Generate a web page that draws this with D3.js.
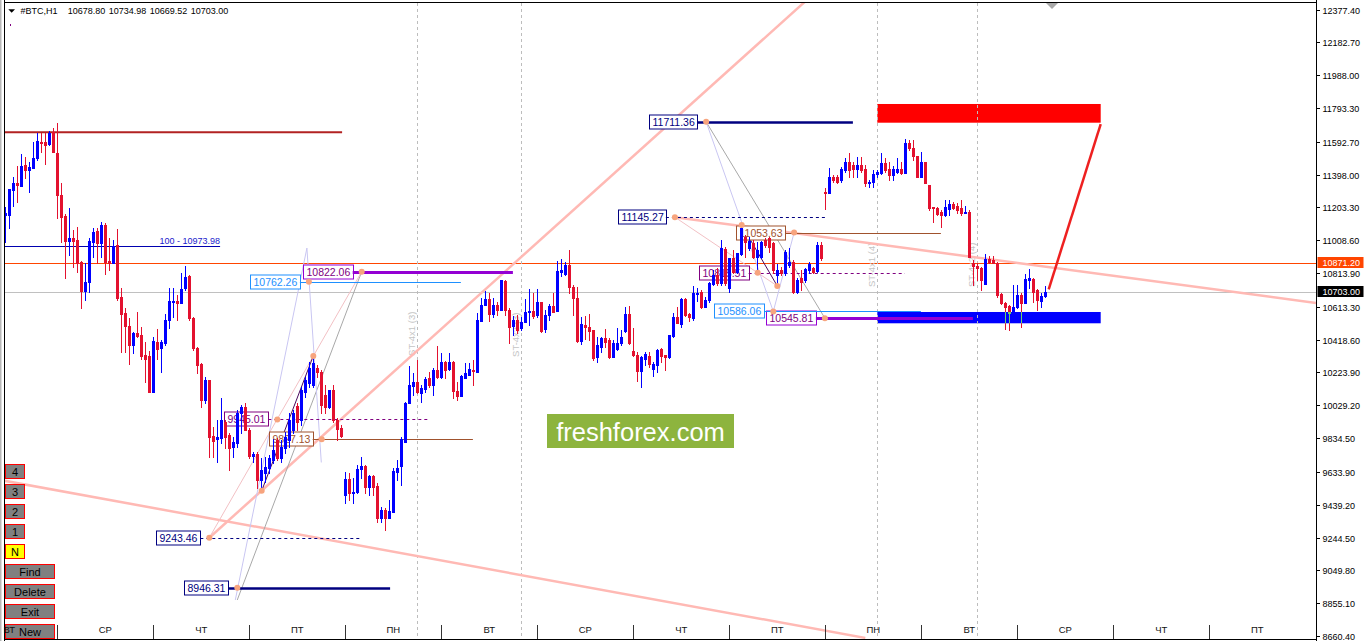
<!DOCTYPE html>
<html><head><meta charset="utf-8">
<script src="https://cdn.jsdelivr.net/npm/d3@7/dist/d3.min.js"></script>
<style>
html,body{margin:0;padding:0;background:#fff;overflow:hidden}
svg{display:block}
text{font-family:"Liberation Sans",Arial,sans-serif}
</style></head><body>
<svg id="chart" width="1366" height="641"></svg>
<script>
// ---------------- DATA ----------------
const symbol = "#BTC,H1";
const opens = [
11158,11158,11306,11346,11332,11455,11425,11439,11494,11593,
11589,11577,11653,11524,11277,11154,11004,11020,11010,10881,
10709,10759,11000,11063,10990,11099,10885,10871,10980,10670,
10575,10501,10387,10456,10446,10327,10323,10106,10406,10367,
10400,10535,10640,10648,10638,10723,10798,10545,10367,10274,
10060,10179,9847,9827,9833,9932,9853,9784,9807,9981,
10021,9882,9728,9740,9586,9625,9655,9704,9823,9714,
9774,9823,9882,10027,9942,10110,10159,10150,10248,10229,
10090,10021,10120,9942,9892,9497,9592,9507,9513,9651,
9671,9546,9611,9552,9358,9408,9358,9398,9635,9671,
9813,10045,10146,10169,10100,10126,10189,10150,10239,10199,
10288,10245,10288,10114,10086,10193,10209,10239,10229,10529,
10624,10660,10569,10624,10595,10767,10595,10502,10535,10486,
10525,10585,10590,10565,10644,10480,10565,10618,10590,10822,
10808,10861,10729,10664,10412,10505,10496,10476,10314,10377,
10426,10416,10318,10363,10397,10472,10571,10353,10327,10234,
10302,10321,10242,10268,10361,10327,10314,10440,10555,10511,
10658,10571,10545,10687,10703,10614,10654,10749,10802,10753,
10954,10723,10901,10822,10927,11026,10960,10994,10911,10911,
11010,11020,10990,10802,10832,10812,10861,10881,10703,10782,
10772,10832,10842,10828,10980,11297,11287,11386,11386,11366,
11425,11471,11455,11429,11455,11429,11350,11356,11401,11409,
11469,11429,11395,11415,11429,11409,11587,11554,11508,11386,
11475,11336,11204,11198,11178,11158,11192,11223,11211,11198,
11168,11178,10875,10855,10842,10749,10895,10891,10875,10689,
10638,10618,10575,10610,10683,10638,10772,10776,10713,10650,
10678.80];
const highs = [
11208,11315,11386,11451,11520,11504,11475,11593,11643,11643,
11643,11659,11672,11702,11346,11162,11198,11069,11085,10887,
10871,11024,11079,11079,11119,11109,11020,11010,11075,10723,
10608,10545,10466,10585,10495,10406,10351,10436,10482,10416,
10569,10723,10723,10684,10812,10856,10802,10555,10377,10278,
10199,10179,9902,9942,10070,9942,9863,9843,10001,10031,
10041,9892,9754,9754,9714,9724,9734,9827,9833,9823,
9873,9981,10001,10041,10140,10199,10288,10322,10268,10239,
10150,10120,10150,9952,9912,9635,9625,9596,9675,9724,
9675,9615,9615,9566,9428,9418,9467,9655,9705,9843,
10051,10262,10219,10298,10150,10199,10229,10248,10383,10337,
10292,10337,10292,10169,10209,10278,10278,10298,10575,10664,
10707,10693,10668,10644,10773,10773,10604,10561,10565,10555,
10658,10717,10697,10717,10644,10594,10630,10697,10887,10897,
10881,10950,10743,10733,10555,10559,10571,10476,10432,10432,
10480,10426,10416,10486,10476,10614,10618,10486,10347,10321,
10347,10347,10288,10361,10367,10327,10446,10579,10614,10664,
10664,10579,10737,10723,10713,10674,10763,10832,10842,11010,
10970,10901,10950,10935,11099,11039,11030,11010,11000,11006,
11020,11030,11000,10867,10852,10950,10960,10891,10782,10832,
10842,10881,10852,11000,11000,11316,11435,11395,11395,11445,
11494,11528,11475,11504,11504,11455,11366,11425,11425,11524,
11494,11475,11449,11494,11475,11607,11603,11603,11508,11534,
11475,11336,11208,11204,11188,11247,11247,11237,11227,11247,
11211,11188,10891,10871,10851,10927,10915,10915,10881,10693,
10644,10624,10743,10743,10693,10808,10836,10782,10717,10697,
10734.98];
const lows = [
10999,11079,11214,11237,11332,11376,11297,11435,11484,11534,
11459,11573,11534,11138,11000,10786,10921,10852,10818,10604,
10654,10703,10911,10871,10911,10806,10832,10871,10654,10347,
10347,10272,10341,10436,10302,10169,10106,10106,10304,10228,
10387,10486,10555,10535,10634,10713,10535,10357,10219,10021,
10041,9724,9724,9695,9803,9774,9645,9724,9784,9863,
9882,9714,9695,9536,9522,9576,9625,9685,9704,9695,
9744,9784,9862,9882,9912,10080,10140,10140,10199,9981,
9981,10011,9932,9823,9843,9447,9467,9447,9507,9596,
9507,9497,9497,9339,9339,9289,9358,9398,9586,9556,
9813,10045,10090,10100,10051,10110,10140,10090,10189,10189,
10189,10239,10070,10060,10086,10189,10209,10150,10229,10529,
10624,10529,10555,10565,10595,10565,10397,10446,10456,10476,
10525,10505,10545,10555,10466,10466,10535,10585,10590,10796,
10802,10697,10565,10407,10393,10420,10416,10298,10288,10347,
10377,10308,10318,10357,10387,10466,10393,10321,10175,10140,
10268,10254,10203,10229,10288,10238,10308,10432,10515,10496,
10559,10531,10535,10650,10604,10614,10644,10743,10743,10743,
10743,10703,10812,10812,10921,10911,10950,10901,10832,10901,
10970,10941,10812,10737,10802,10802,10852,10693,10693,10713,
10763,10812,10812,10822,10891,11192,11287,11356,11346,11356,
11415,11386,11386,11386,11415,11330,11322,11322,11386,11401,
11415,11366,11366,11409,11401,11409,11544,11484,11386,11386,
11346,11188,11118,11158,11085,11152,11158,11192,11168,11158,
11168,10911,10743,10772,10713,10749,10871,10871,10670,10630,
10480,10476,10575,10604,10495,10634,10723,10644,10594,10610,
10669.52];
const closes = [
11168,11312,11346,11336,11451,11425,11445,11498,11597,11583,
11573,11643,11534,11277,11148,11004,11020,11004,10871,10709,
10759,11004,11059,10990,11099,10881,10871,10974,10664,10571,
10501,10387,10456,10442,10323,10304,10106,10410,10363,10406,
10535,10648,10648,10638,10717,10788,10545,10367,10268,10060,
10179,9843,9819,9843,9942,9843,9774,9813,9981,10021,
9882,9728,9740,9586,9645,9665,9714,9764,9714,9784,
9843,9942,9981,9932,10120,10179,10248,10278,10229,10031,
10021,10120,9942,9886,9847,9592,9507,9517,9651,9671,
9546,9611,9546,9358,9408,9358,9402,9639,9659,9829,
10045,10150,10169,10110,10134,10185,10150,10239,10199,10284,
10239,10288,10114,10086,10205,10219,10243,10233,10535,10624,
10660,10569,10624,10595,10773,10595,10496,10535,10476,10525,
10585,10590,10559,10644,10472,10565,10618,10585,10828,10832,
10861,10729,10664,10412,10511,10496,10472,10308,10387,10426,
10407,10318,10397,10401,10432,10571,10397,10327,10234,10314,
10333,10274,10274,10357,10321,10318,10446,10555,10515,10658,
10565,10555,10693,10697,10614,10654,10753,10802,10753,10960,
10753,10901,10822,10931,11079,11000,11006,10911,10950,11000,
10980,10970,10832,10832,10812,10941,10881,10703,10772,10763,
10836,10867,10822,10980,10901,11287,11386,11366,11356,11429,
11475,11425,11429,11455,11425,11350,11356,11401,11415,11469,
11425,11395,11429,11429,11405,11587,11554,11508,11386,11475,
11346,11198,11198,11164,11158,11204,11223,11198,11188,11168,
11178,10911,10855,10842,10772,10895,10881,10871,10683,10634,
10614,10579,10610,10683,10638,10776,10782,10703,10654,10677,
10703.00];

const priceTicks = [12377.40,12182.70,11988.00,11793.30,11592.70,11398.00,11203.30,11008.60,10813.90,10613.30,
                    10418.60,10223.90,10029.20,9834.50,9633.90,9439.20,9244.50,9049.80,8855.10,8660.40];
const dayNames = ["ВТ","СР","ЧТ","ПТ","ПН","ВТ","СР","ЧТ","ПТ","ПН","ВТ","СР","ЧТ","ПТ"];
const dayStartBars = [-11,13,37,61,85,109,133,157,181,205,229,253,277,301];
const askPrice = 10871.20;
const bidPrice = 10703.00;
const resistanceLine = {price:11649, from:-2, to:84.2};
const fibLine = {level:100, price:10973.98, from:-2, to:53.7};
const vLines = [{bar:103,text:"ST-4x1 (3)",price:10322},{bar:129,text:"ST-4x2 (3)",price:10316},
                {bar:218,text:"ST-4x1 (4)",price:10731},{bar:243,text:"ST-4x2 (4)",price:10731}];
const trendLines = [
  [[51,9243.46],[201,12447]],
  [[-2,9589],[215,8649]],
  [[167.4,11145.27],[331,10626]]
];
const patternLines = [
  {kind:"gray",     pts:[[57.99,8874],[89.1,10822.06]]},
  {kind:"lavender", pts:[[57.5,8874],[75.4,10962],[79,9690]]},
  {kind:"pink",     pts:[[51,9243.46],[89.1,10822.06]]},
  {kind:"purple",   pts:[[64.1,9522],[77,10322]]},
  {kind:"gray",     pts:[[175.2,11711.36],[204.9,10545.81]]},
  {kind:"lavender", pts:[[175.2,11711.36],[192,10586.06],[197.2,11053.63]]},
  {kind:"purple",   pts:[[184.1,11099],[193,10737]]},
  {kind:"pink",     pts:[[167.4,11145.27],[193,10737]]}
];
const levels = [
  {text:"11711.36", price:11711.36, bar:175.2, end:211.9, kind:"navyThick"},
  {text:"11145.27", price:11145.27, bar:167.4, end:204.9, kind:"navyDash"},
  {text:"11053.63", price:11053.63, bar:197.2, end:233.9, kind:"brown"},
  {text:"10815.51", price:10815.51, bar:188.1, end:224.9, kind:"purpleDash"},
  {text:"10586.06", price:10586.06, bar:192,   end:228.9, kind:"sky"},
  {text:"10545.81", price:10545.81, bar:204.9, end:241.9, kind:"violetThick"},
  {text:"10762.26", price:10762.26, bar:75.9,  end:113.9, kind:"sky"},
  {text:"10822.06", price:10822.06, bar:89.1,  end:126.9, kind:"violetThick"},
  {text:"9945.01",  price:9945.01,  bar:68,    end:105.9, kind:"purpleDash"},
  {text:"9827.13",  price:9827.13,  bar:79.1,  end:116.9, kind:"brown"},
  {text:"9243.46",  price:9243.46,  bar:51,    end:89.1,  kind:"navyDash"},
  {text:"8946.31",  price:8946.31,  bar:58,    end:96.2,  kind:"navyThick"}
];
const extraPivots = [[64.1,9522],[77,10322],[184.1,11099],[193,10737]];
const zones = [
  {from:218, to:273.85, top:11816.8, bottom:11705.8, kind:"sell"},
  {from:218, to:273.85, top:10582.7, bottom:10515.7, kind:"buy"}
];
const projection = [[260.85,10717],[273.85,11698]];
const buttons = ["4","3","2","1","N","Find","Delete","Exit","New"];
const watermark = "freshforex.com";

// ---------------- SCALES ----------------
const svg = d3.select("#chart");
const N = closes.length;
const x = d3.scaleLinear().domain([0,260]).range([5.3,1045.3]);
const y = d3.scaleLinear().domain([8660.4,12377.4]).range([636,9.5]);
const PL=5, PR=1316, PT=3, PB=639;

svg.append("rect").attr("width",1366).attr("height",641).attr("fill","#fff");
const defs = svg.append("defs");
defs.append("clipPath").attr("id","plot").append("rect")
  .attr("x",PL).attr("y",PT).attr("width",PR-PL).attr("height",PB-PT);
const buyZone = zones[1];
defs.append("clipPath").attr("id","buyclip").append("rect")
  .attr("x",x(buyZone.from)).attr("y",y(buyZone.top))
  .attr("width",x(buyZone.to)-x(buyZone.from)).attr("height",y(buyZone.bottom)-y(buyZone.top));

const plot = svg.append("g").attr("clip-path","url(#plot)");
const line = d3.line().x(d=>x(d[0])).y(d=>y(d[1]));

// zones
plot.selectAll("rect.zone").data(zones).join("rect")
  .attr("x",d=>x(d.from)).attr("y",d=>y(d.top))
  .attr("width",d=>x(d.to)-x(d.from)).attr("height",d=>y(d.bottom)-y(d.top))
  .attr("fill",d=>d.kind==="sell"?"#ff0000":"#0000ff");

// horizontal lines
const hy = p => Math.round(y(p))+0.5;
plot.append("line").attr("x1",x(resistanceLine.from)).attr("x2",x(resistanceLine.to))
  .attr("y1",y(resistanceLine.price)).attr("y2",y(resistanceLine.price))
  .attr("stroke","#b22222").attr("stroke-width",2);
plot.append("line").attr("x1",x(fibLine.from)).attr("x2",x(fibLine.to))
  .attr("y1",hy(fibLine.price)).attr("y2",hy(fibLine.price))
  .attr("stroke","#0000b0").attr("stroke-width",1);
plot.append("text").attr("x",x(fibLine.to)).attr("y",y(fibLine.price)-2)
  .attr("text-anchor","end").attr("font-size",9).attr("fill","#1a1acc")
  .text(`${fibLine.level} - ${fibLine.price.toFixed(2)}`);
plot.append("line").attr("x1",PL).attr("x2",PR).attr("y1",hy(askPrice)).attr("y2",hy(askPrice))
  .attr("stroke","#ff4500").attr("stroke-width",1);
plot.append("line").attr("x1",PL).attr("x2",PR).attr("y1",hy(bidPrice)).attr("y2",hy(bidPrice))
  .attr("stroke","#c0c0c0").attr("stroke-width",1);

// vertical dashed lines + labels
vLines.forEach(v=>{
  const vx = Math.round(x(v.bar))+0.5;
  plot.append("line").attr("x1",vx).attr("x2",vx).attr("y1",PT).attr("y2",PB)
    .attr("stroke","#bdbdbd").attr("stroke-dasharray","3,3");
  plot.append("text").attr("transform",`translate(${vx-3},${y(v.price)}) rotate(-90)`)
    .attr("font-size",9.5).attr("fill","#c4c4c4").text(v.text);
});

// trend lines (thick pink)
trendLines.forEach(t=>{
  plot.append("path").attr("d",line(t)).attr("fill","none")
    .attr("stroke","#ffb9b4").attr("stroke-width",2.5);
});

// thin pattern lines
const patternColor = {gray:"#a8a8a8", lavender:"#c9c6f2", pink:"#f2c0c4", purple:"#4b0a5e"};
patternLines.forEach(p=>{
  plot.append("path").attr("d",line(p.pts)).attr("fill","none")
    .attr("stroke",patternColor[p.kind]).attr("stroke-width",1);
});

// levels with labels
const levelStyle = {
  navyThick:{c:"#000080",t:"#000080",w:2.5,dash:null},
  navyDash:{c:"#000080",t:"#000080",w:1,dash:"3,3"},
  brown:{c:"#a0522d",t:"#a0522d",w:1,dash:null},
  purpleDash:{c:"#800080",t:"#800080",w:1,dash:"3,3"},
  sky:{c:"#1e90ff",t:"#1e90ff",w:1,dash:null},
  violetThick:{c:"#9400d3",t:"#800080",w:3,dash:null}
};
const labelLayer = plot.append("g");
levels.forEach(l=>{
  const s = levelStyle[l.kind];
  const ax = x(l.bar), ay = Math.round(y(l.price))+0.5;
  plot.append("line").attr("x1",ax-9).attr("x2",x(l.end)).attr("y1",ay).attr("y2",ay)
    .attr("stroke",s.c).attr("stroke-width",s.w).attr("stroke-dasharray",s.dash);
  const g = labelLayer.append("g");
  const box = g.append("rect");
  const t = g.append("text").attr("font-size",10.5).attr("fill",s.t).text(l.text);
  const tw = t.node().getComputedTextLength();
  const bw = Math.round(tw+6), bx = Math.round(ax-9-bw)+0.5;
  box.attr("x",bx).attr("y",Math.round(ay-7.5)).attr("width",bw).attr("height",14)
    .attr("fill","#fff").attr("stroke",s.c).attr("stroke-width",1);
  t.attr("x",bx+3).attr("y",ay+3.8);
});

// candles
const candles = plot.append("g");
function drawCandles(layer, colorFn, filter){
  d3.range(N).filter(filter).forEach(i=>{
    const cx = Math.round(x(i));
    const o=opens[i], c=closes[i], h=highs[i], lo=lows[i];
    const col = colorFn(i);
    layer.append("rect").attr("x",cx).attr("y",Math.round(y(h)))
      .attr("width",1).attr("height",Math.max(1,Math.round(y(lo))-Math.round(y(h))+1)).attr("fill",col);
    const top = Math.round(y(Math.max(o,c))), bot = Math.round(y(Math.min(o,c)));
    layer.append("rect").attr("x",cx-1).attr("y",top)
      .attr("width",3).attr("height",Math.max(1,bot-top+1)).attr("fill",col);
  });
}
const isBull = i => closes[i] >= opens[i];
drawCandles(candles, i=>isBull(i)?"#0000ff":"#e3112f", ()=>true);
// red candles over the blue zone appear green (XOR-like blending)
const greenLayer = plot.append("g").attr("clip-path","url(#buyclip)");
drawCandles(greenLayer, ()=>"#6bd46b", i=>!isBull(i) && i>=buyZone.from);

// projection line
plot.append("path").attr("d",line(projection)).attr("fill","none")
  .attr("stroke","#ee2020").attr("stroke-width",2.5);

// pivot dots
const dots = levels.map(l=>[l.bar,l.price]).concat(extraPivots);
plot.selectAll("circle.dot").data(dots).join("circle")
  .attr("cx",d=>x(d[0])).attr("cy",d=>y(d[1])).attr("r",3).attr("fill","#f7a47e");

// watermark
svg.append("rect").attr("x",547).attr("y",414).attr("width",187).attr("height",34).attr("fill","#8db43e");
svg.append("text").attr("x",640.5).attr("y",440.5).attr("text-anchor","middle")
  .attr("font-family","'Open Sans',sans-serif").attr("font-size",25.5).attr("fill","#fff").text(watermark);

// frame
svg.append("rect").attr("x",0).attr("y",0).attr("width",1.5).attr("height",641).attr("fill","#b8b8b8");
svg.append("line").attr("x1",4.5).attr("x2",4.5).attr("y1",0).attr("y2",641).attr("stroke","#000");
svg.append("line").attr("x1",4.5).attr("x2",1316.5).attr("y1",2.5).attr("y2",2.5).attr("stroke","#000");
svg.append("line").attr("x1",4.5).attr("x2",1316.5).attr("y1",639.5).attr("y2",639.5).attr("stroke","#000");
svg.append("line").attr("x1",1316.5).attr("x2",1316.5).attr("y1",0).attr("y2",641).attr("stroke","#000");
svg.append("path").attr("d","M1046,3L1058,3L1052,9Z").attr("fill","#a8a8a8");
svg.append("rect").attr("x",10).attr("y",24).attr("width",1).attr("height",2).attr("fill","#800080");

// price axis
const axisG = svg.append("g");
priceTicks.forEach(v=>{
  const ty = Math.round(y(v))+0.5;
  axisG.append("line").attr("x1",1317).attr("x2",1320).attr("y1",ty).attr("y2",ty).attr("stroke","#000");
  axisG.append("text").attr("x",1322.5).attr("y",ty+3.3).attr("font-size",9).attr("fill","#000").text(v.toFixed(2));
});
[[askPrice,"#ff4500"],[bidPrice,"#000"]].forEach(([p,col])=>{
  const ty = Math.round(y(p));
  axisG.append("rect").attr("x",1317.5).attr("y",ty-6).attr("width",46).attr("height",11).attr("fill",col);
  axisG.append("text").attr("x",1322.5).attr("y",ty+3.3).attr("font-size",9).attr("fill","#fff").text(p.toFixed(2));
});

// buttons
buttons.forEach((b,i)=>{
  const by = 464.5 + 20*i;
  const w = i<5 ? 19 : 49;
  svg.append("rect").attr("x",5.5).attr("y",by).attr("width",w).attr("height",14)
    .attr("fill", b==="N" ? "#ffff00" : "#808080").attr("stroke","#ff0000");
  svg.append("text").attr("x",5.5+w/2).attr("y",by+11).attr("text-anchor","middle")
    .attr("font-size",11).attr("fill","#000").text(b);
});

// day axis
dayStartBars.forEach((s,i)=>{
  const sx = Math.round(x(s))+0.5;
  if (sx>PL && sx<PR) svg.append("line").attr("x1",sx).attr("x2",sx).attr("y1",625).attr("y2",639)
    .attr("stroke","#333");
  const cx = x(s)+48;
  if (cx<PR) svg.append("text").attr("x",cx).attr("y",633).attr("text-anchor","middle")
    .attr("font-size",9.5).attr("fill","#111").text(dayNames[i]);
});

// header
svg.append("path").attr("d","M8.3,9.3L15,9.3L11.7,12.7Z").attr("fill","#000");
svg.append("text").attr("x",20.5).attr("y",13.5).attr("font-size",9).attr("fill","#000").text(symbol);
const last = N-1;
[opens[last],highs[last],lows[last],closes[last]].forEach((v,i)=>{
  svg.append("text").attr("x",67.7+41*i).attr("y",13.5).attr("font-size",9).attr("fill","#000").text(v.toFixed(2));
});
</script>
</body></html>
